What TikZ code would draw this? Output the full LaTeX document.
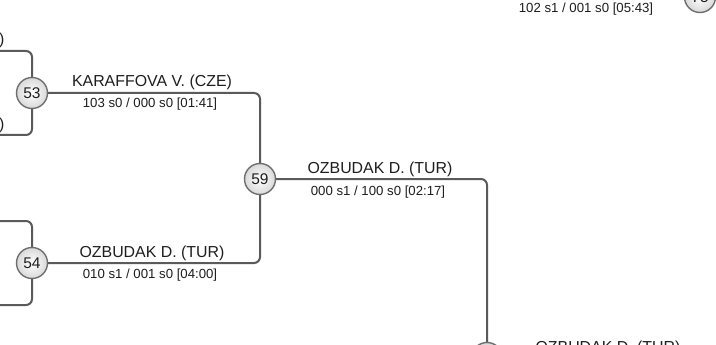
\documentclass[tikz,border=0pt]{standalone}
\usepackage{fontspec}
\setmainfont{Liberation Sans}
\definecolor{linec}{HTML}{5A5A5A}
\definecolor{circc}{HTML}{6E6E6E}
\definecolor{txtc}{HTML}{1E1E1E}
\begin{document}
\begin{tikzpicture}[x=1pt,y=-1pt,
  conn/.style={draw=linec, line width=2pt, rounded corners=6pt},
  matchnode/.style={circle, draw=circc, line width=1.4pt, inner sep=0pt, minimum size=31pt, inner color=white, outer color=gray!30, text=txtc, font=\fontsize{15.5}{16}\selectfont},
  namelab/.style={anchor=base, inner sep=0pt, text=txtc, font=\fontsize{15.9}{16}\selectfont},
  scorelab/.style={anchor=base, inner sep=0pt, text=txtc, font=\fontsize{13.2}{13}\selectfont}]
\useasboundingbox (0,0) rectangle (716,345);
\clip (0,0) rectangle (716,345);
\fill[white] (0,0) rectangle (716,345);
% match nodes
\node[matchnode] (m53) at (32,93) {53};
\node[matchnode] (m54) at (32,263) {54};
\node[matchnode] (m59) at (260,179) {59};
\node[matchnode] (mF) at (487,358) {};
\node[matchnode] (m75) at (700,-3) {75};
% free ends
\coordinate (a1) at (-10,51);
\coordinate (a2) at (-10,135);
\coordinate (b1) at (-10,221);
\coordinate (b2) at (-10,305);
% connectors
\draw[conn] (a1) -| (m53.north);
\draw[conn] (a2) -| (m53.south);
\draw[conn] (b1) -| (m54.north);
\draw[conn] (b2) -| (m54.south);
\draw[conn] (m53.east) -| (m59.north);
\draw[conn] (m54.east) -| (m59.south);
\draw[conn] (m59.east) -| (mF.north);
% labels
\node[namelab] (l53) at (152,87) {KARAFFOVA V. (CZE)};
\node[scorelab] (s53) at (150,108) {103 s0 / 000 s0 [01:41]};
\node[namelab] (l54) at (152,257) {OZBUDAK D. (TUR)};
\node[scorelab] (s54) at (150,278) {010 s1 / 001 s0 [04:00]};
\node[namelab] (l59) at (380,173) {OZBUDAK D. (TUR)};
\node[scorelab] (s59) at (378,195) {000 s1 / 100 s0 [02:17]};
\node[namelab] (lF) at (608,352) {OZBUDAK D. (TUR)};
\node[scorelab] (sT) at (586,13) {102 s1 / 001 s0 [05:43]};
\node[namelab, anchor=base east] (pa) at (4.5,45) {)};
\node[namelab, anchor=base east] (pb) at (4.5,129) {)};
\end{tikzpicture}
\end{document}
